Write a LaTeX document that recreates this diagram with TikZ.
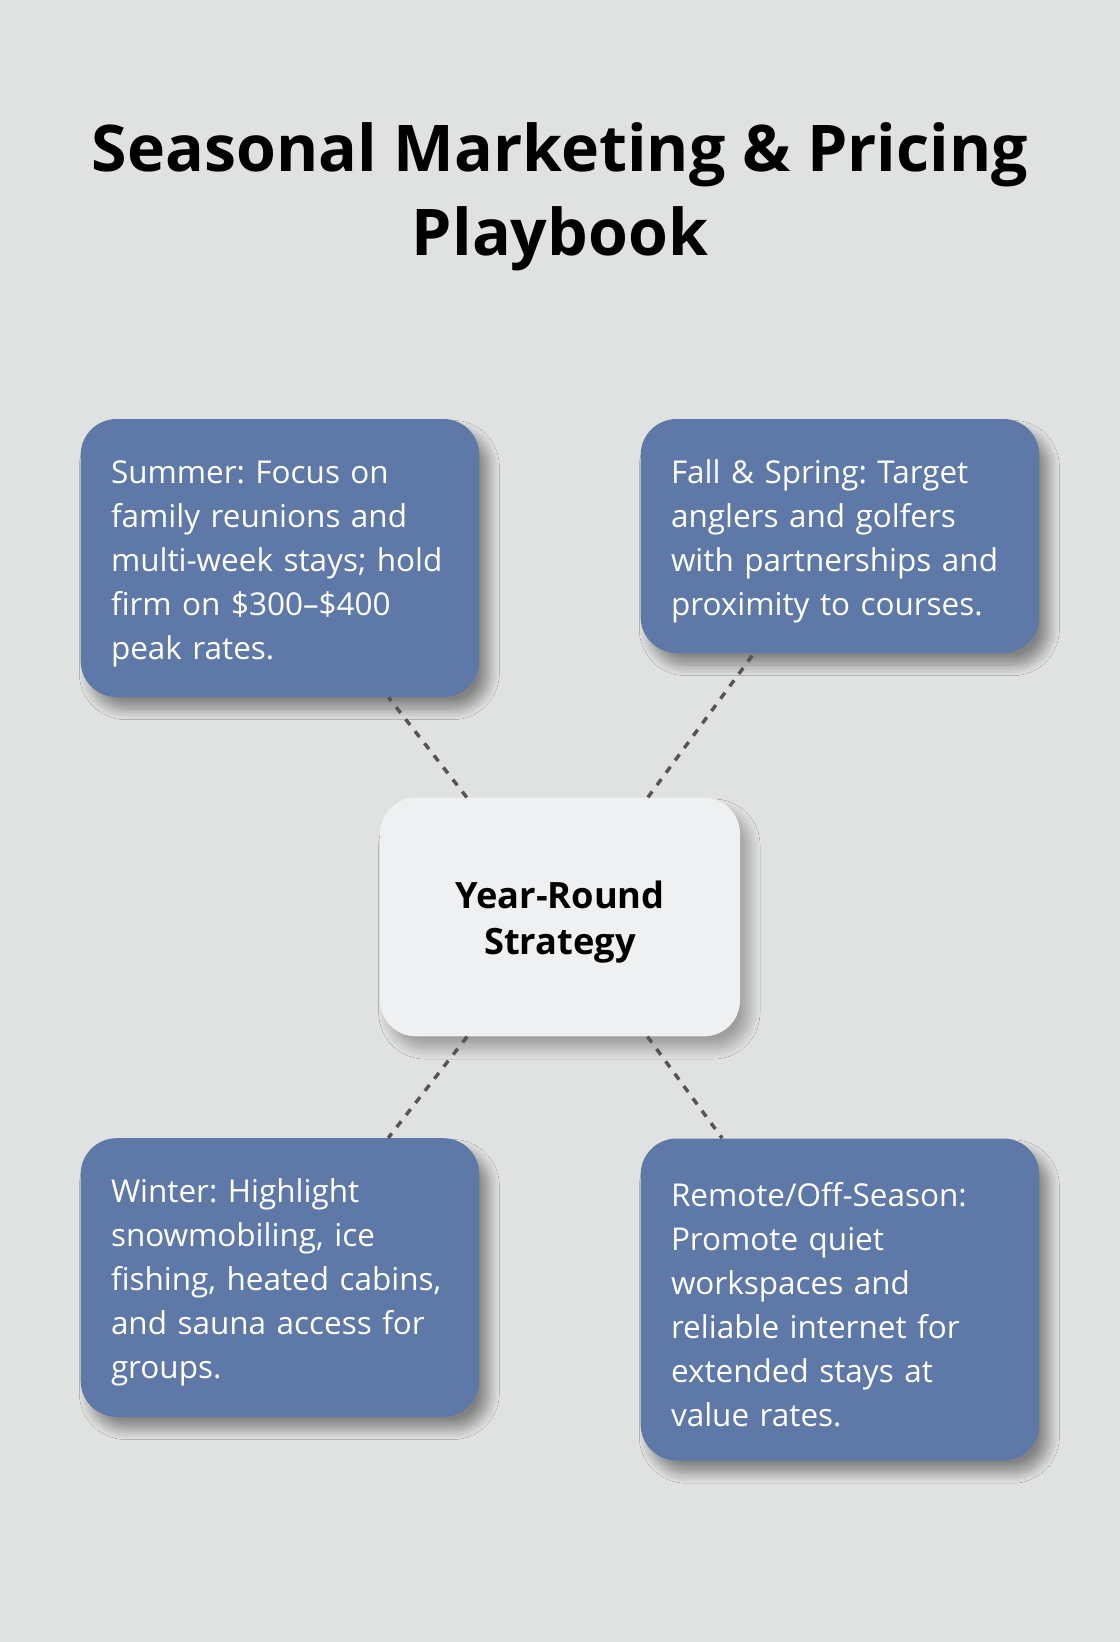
\documentclass[tikz,border=0pt]{standalone}
\usepackage{fontspec}
\setmainfont{Open Sans}
\frenchspacing
\usetikzlibrary{shadows.blur}
\definecolor{bgcol}{HTML}{E0E2E1}
\definecolor{tipblue}{HTML}{5E78A8}
\definecolor{hubgray}{HTML}{EFF0F2}
\definecolor{linkgray}{HTML}{555555}
\tikzset{
	softshadow/.style={blur shadow={shadow xshift=7pt,shadow yshift=-9pt,shadow blur radius=8pt,shadow blur steps=16,shadow opacity=#1}},
	tip/.style 2 args={rectangle,rounded corners=27pt,fill=tipblue,text=white,minimum width=299pt,minimum height=#1,text width=253.5pt,inner xsep=22.5pt,align=left,font=\fontsize{23.6}{33}\selectfont,execute at begin node={\rule{0pt}{25.5pt}},name=#2,softshadow=42},
	hub/.style={rectangle,rounded corners=27pt,fill=hubgray,minimum width=270pt,minimum height=179pt,text width=230pt,align=center,font=\bfseries\fontsize{27.2}{35}\selectfont,execute at begin node={\rule{0pt}{28.2pt}},name=#1,softshadow=30},
	link/.style={draw=linkgray,line width=2.6pt,dash pattern=on 5.5pt off 6pt}
}
\begin{document}
\begin{tikzpicture}[x=0.75pt,y=-0.75pt]
	\fill[bgcol] (0,0) rectangle (1120,1642);
	\useasboundingbox (0,0) rectangle (1120,1642);
	\node [align=center,text=black,font=\bfseries\fontsize{48.3}{63}\selectfont] (title) at (560,197) {Seasonal Marketing \& Pricing\\Playbook};

	\node [tip={208.5pt}{summer}] at (280,558) {Summer: Focus on\\family reunions and\\multi-week stays; hold\\firm on \$300–\$400\\peak rates.};
	\node [tip={175.5pt}{fallspring}] at (840,536) {Fall \& Spring: Target\\anglers and golfers\\with partnerships and\\proximity to courses.};
	\node [tip={209pt}{winter}] at (280,1277.5) {Winter: Highlight\\snowmobiling, ice\\fishing, heated cabins,\\and sauna access for\\groups.};
	\node [tip={241.5pt}{remote},execute at begin node={\rule{0pt}{21pt}}] at (840,1299.5) {Remote/Off-Season:\\Promote quiet\\workspaces and\\reliable internet for\\extended stays at\\value rates.};
	\node [hub=strategy] at (560,917) {Year-Round\\Strategy};

	\draw [link] (strategy) -- (summer);
	\draw [link] (strategy) -- (fallspring);
	\draw [link] (strategy) -- (winter);
	\draw [link] (strategy) -- (remote);
\end{tikzpicture}
\end{document}
